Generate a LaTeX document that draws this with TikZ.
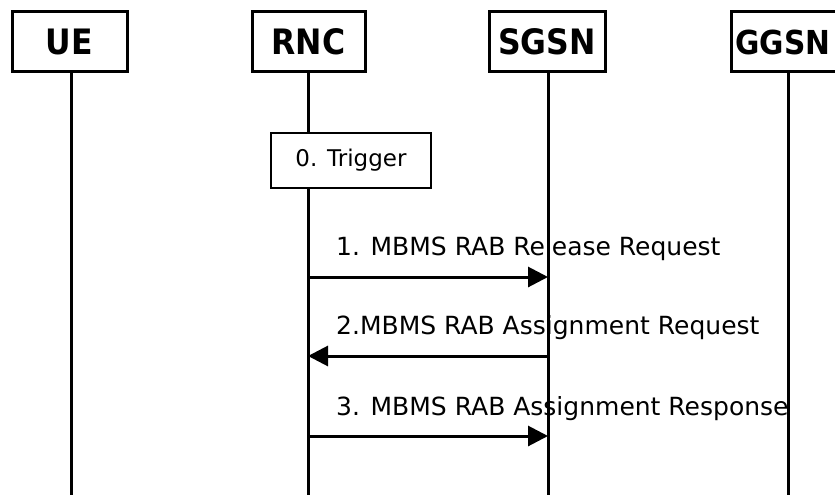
\documentclass[tikz,border=0pt]{standalone}
\usepackage{fontspec}
\setmainfont{DejaVu Sans}
\newfontfamily\condfont{DejaVu Sans Condensed}
\usetikzlibrary{arrows.meta}
\begin{document}
\begin{tikzpicture}[x=1pt,y=-1pt,
  ent/.style={draw,line width=3pt,minimum height=60pt,inner sep=0pt,font=\condfont\fontsize{35}{37}\selectfont\bfseries},
  life/.style={line width=3pt},
  trig/.style={draw,line width=2pt,minimum width=160pt,minimum height=55pt,inner sep=0pt,font=\fontsize{23}{25}\selectfont,fill=white},
  msg/.style={line width=3pt,-{Triangle[length=20pt,width=20pt]}},
  lbl/.style={anchor=west,inner sep=0pt,font=\fontsize{25}{27}\selectfont}]
\useasboundingbox (0,0) rectangle (835,495);
\clip (0,0) rectangle (835,495);
\node[ent,minimum width=115pt] (ue) at (69.5,42) {UE};
\node[ent,minimum width=113pt] (rnc) at (308.5,42) {RNC};
\node[ent,minimum width=116pt] (sgsn) at (547,42) {SGSN};
\node[ent,minimum width=120pt,anchor=west,text width=112pt,align=left,inner xsep=1pt,font=\condfont\fontsize{33}{35}\selectfont\bfseries] (ggsn) at (730,42) {GGSN};
\coordinate (ueb) at (71,495);
\coordinate (rncb) at (308,495);
\coordinate (sgsnb) at (548,495);
\coordinate (ggsnb) at (788,495);
\draw[life] (ue.south -| ueb) -- (ueb);
\draw[life] (rnc.south -| rncb) -- (rncb);
\draw[life] (sgsn.south -| sgsnb) -- (sgsnb);
\draw[life] (ggsn.south -| ggsnb) -- (ggsnb);
\node[trig] (trg) at (351,160.5) {0. Trigger};
\coordinate (r1) at (308,277); \coordinate (s1) at (548,277);
\coordinate (r2) at (308,356); \coordinate (s2) at (548,356);
\coordinate (r3) at (308,436); \coordinate (s3) at (548,436);
\draw[msg] (r1) -- (s1);
\draw[msg] (s2) -- (r2);
\draw[msg] (r3) -- (s3);
\node[lbl] (l1) at (336,249) {1. MBMS RAB Release Request};
\node[lbl] (l2) at (336,328) {2.MBMS RAB Assignment Request};
\node[lbl] (l3) at (336,409) {3. MBMS RAB Assignment Response};
\end{tikzpicture}
\end{document}
